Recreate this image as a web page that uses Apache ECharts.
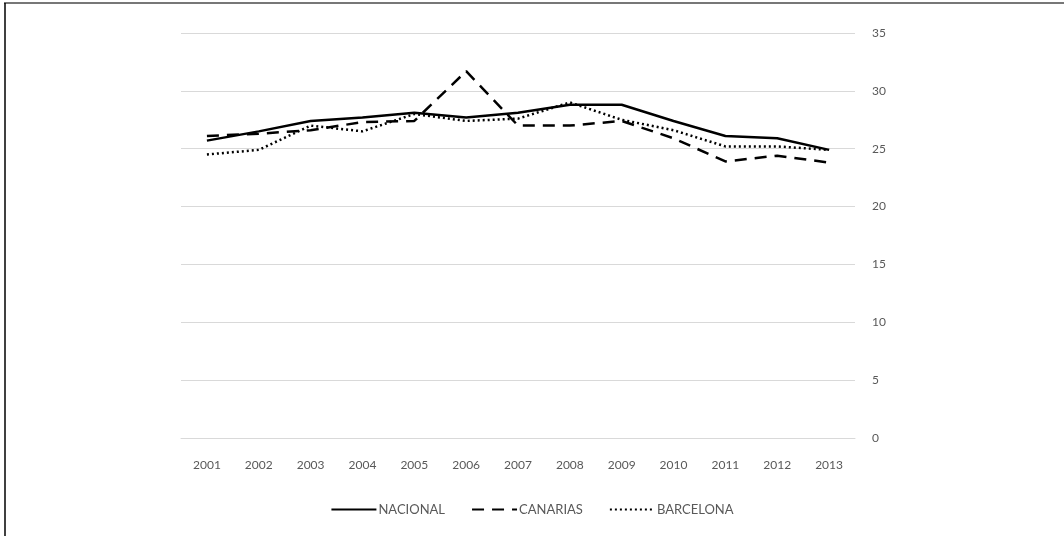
<!DOCTYPE html>
<html>
<head>
<meta charset="utf-8">
<script src="https://cdn.jsdelivr.net/npm/echarts@6/dist/echarts.min.js"></script>
<style>
html,body{margin:0;padding:0;background:#fff;}
#chart{width:1064px;height:536px;}
</style>
</head>
<body>
<div id="chart"></div>
<script>
const years = ['2001','2002','2003','2004','2005','2006','2007','2008','2009','2010','2011','2012','2013'];
const nacional  = [25.7, 26.5, 27.4, 27.7, 28.1, 27.7, 28.1, 28.8, 28.8, 27.4, 26.1, 25.9, 24.9];
const canarias  = [26.1, 26.3, 26.6, 27.3, 27.4, 31.7, 27.0, 27.0, 27.4, 25.9, 23.9, 24.4, 23.8];
const barcelona = [24.5, 24.9, 27.0, 26.5, 28.0, 27.4, 27.6, 29.0, 27.5, 26.6, 25.2, 25.2, 24.9];
const yTicks = { min: 0, max: 35, interval: 5 };

const font = 'Lato, "Open Sans", sans-serif';
const grey = '#595959';
const chart = echarts.init(document.getElementById('chart'), null, { renderer: 'canvas' });

const solid = { color: '#000', width: 2.5, type: 'solid' };
const dashed = { color: '#000', width: 2.5, type: [12, 8] };
const dotted = { color: '#000', width: 2.5, type: [2, 3] };

chart.setOption({
  animation: false,
  backgroundColor: '#fff',
  graphic: [
    { type: 'line', shape: { x1: 4, y1: 3, x2: 1064, y2: 3 }, style: { stroke: '#777', lineWidth: 2 } },
    { type: 'line', shape: { x1: 5, y1: 3, x2: 5, y2: 536 }, style: { stroke: '#000', lineWidth: 1.5 } }
  ],
  grid: { left: 181, right: 209, top: 33, bottom: 98, containLabel: false },
  legend: {
    bottom: 15,
    left: 'center',
    itemWidth: 45,
    itemHeight: 10,
    itemGap: 26,
    itemStyle: { opacity: 0, borderWidth: 0 },
    textStyle: { color: grey, fontSize: 13, fontFamily: font, padding: [0, 0, 0, -3] },
    data: ['NACIONAL', 'CANARIAS', 'BARCELONA']
  },
  xAxis: {
    type: 'category',
    data: years,
    boundaryGap: true,
    axisLine: { show: true, lineStyle: { color: '#d9d9d9', width: 1 } },
    axisTick: { show: false },
    axisLabel: { color: grey, fontSize: 12, fontFamily: font, margin: 21 }
  },
  yAxis: {
    type: 'value',
    position: 'right',
    min: yTicks.min, max: yTicks.max, interval: yTicks.interval,
    axisLine: { show: false },
    axisTick: { show: false },
    splitLine: { lineStyle: { color: '#d9d9d9', width: 1 } },
    axisLabel: { color: grey, fontSize: 12, fontFamily: font, margin: 17 }
  },
  series: [
    { name: 'NACIONAL', type: 'line', data: nacional, symbol: 'none', showSymbol: false, lineStyle: solid, itemStyle: { color: '#000' }, z: 3 },
    { name: 'CANARIAS', type: 'line', data: canarias, symbol: 'none', showSymbol: false, lineStyle: dashed, itemStyle: { color: '#000' }, z: 2 },
    { name: 'BARCELONA', type: 'line', data: barcelona, symbol: 'none', showSymbol: false, lineStyle: dotted, itemStyle: { color: '#000' }, z: 4 }
  ]
});
</script>
</body>
</html>
